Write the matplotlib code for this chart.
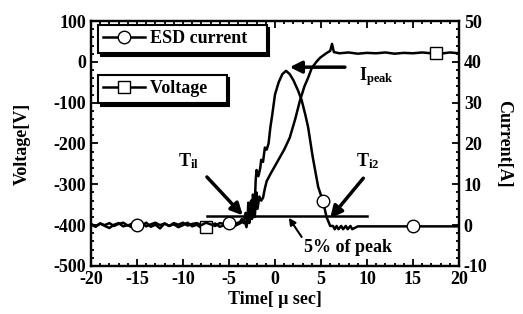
import numpy as np
import matplotlib
matplotlib.use("Agg")
import matplotlib.pyplot as plt
from matplotlib.ticker import MultipleLocator
from matplotlib.lines import Line2D

plt.rcParams['font.family'] = ['Liberation Serif', 'DejaVu Serif']
plt.rcParams['font.weight'] = 'bold'
plt.rcParams['axes.labelweight'] = 'bold'
plt.rcParams['axes.unicode_minus'] = False
plt.rcParams['mathtext.fontset'] = 'custom'
plt.rcParams['mathtext.rm'] = 'Liberation Serif:bold'
plt.rcParams['mathtext.it'] = 'Liberation Serif:bold'
plt.rcParams['mathtext.bf'] = 'Liberation Serif:bold'

# ---------------- data ----------------
current_time = [-20, -19.5, -19, -18.5, -18, -17.5, -17, -16.5, -16, -15.5, -15, -14.5, -14, -13.5,
                -13, -12.5, -12, -11.5, -11, -10.5, -10, -9.5, -9, -8.5, -8, -7.5, -7, -6.5, -6,
                -5.5, -5, -4.5, -4,
                -3.8, -3.6, -3.4, -3.2, -3.0, -2.9, -2.8, -2.6, -2.5, -2.4, -2.2, -2.1, -2.0, -1.8,
                -1.6, -1.5, -1.3, -1.1, -0.9, -0.7, -0.5, -0.3, 0.0, 0.4, 0.8, 1.2, 1.6, 2.0, 2.5,
                2.9, 3.3, 3.6, 4.1, 4.7, 5.2, 5.6, 6.0, 6.3, 6.5, 6.7, 6.9, 7.2, 7.4, 7.7, 7.9, 8.2,
                8.4, 9, 10, 11, 12, 13, 14, 15, 16, 17, 18, 19, 20]
current_amp = [0.3, -0.3, 0.4, 0.0, 0.5, -0.2, 0.3, 0.6, -0.1, 0.4, 0.0, 0.5, -0.3, 0.2,
               0.6, 0.0, 0.4, -0.2, 0.5, 0.1, 0.6, -0.1, 0.3, 0.5, 0.0, 0.6, 0.2, -0.2, 0.5,
               0.3, 0.6, 0.2, 0.6,
               0.8, 1.5, 0.5, 3.0, 1.0, 5.5, 2.0, 6.0, 3.5, 7.5, 5.0, 11, 13.5, 12,
               14, 16, 15.5, 19, 18.5, 20, 24, 27, 32, 35, 37, 37.8, 37, 35.5, 33,
               30.6, 27, 24, 16.7, 9.3, 6.0, 2.0, -0.2, -0.2, -1.0, -0.2, -1.0, -0.2, -1.0, -0.2, -1.0, -0.2,
               -1.0, -0.3, -0.3, -0.3, -0.3, -0.3, -0.3, -0.3, -0.3, -0.3, -0.3, -0.3, -0.3]
current_marker_times = [-15, -5, 5.2, 15]

voltage_time = [-20, -19.5, -19, -18.5, -18, -17.5, -17, -16.5, -16, -15.5, -15, -14.5, -14, -13.5,
                -13, -12.5, -12, -11.5, -11, -10.5, -10, -9.5, -9, -8.5, -8, -7.5, -7, -6.5, -6,
                -5.5, -5, -4.5, -4, -3.5,
                -3.3, -3.1, -2.9, -2.8, -2.6, -2.5, -2.3, -2.2, -2.0, -1.9, -1.7, -1.5, -1.3, -1.1,
                -0.9, -0.5, 0.0, 0.3, 1.0, 1.6, 2.2, 2.7, 3.2, 3.6, 4.0, 4.5, 4.9, 5.5, 6.0, 6.2,
                6.4, 7, 8, 9, 10, 11, 12, 13, 14, 15, 16, 17, 17.5, 18, 19, 20]
voltage_val = [-398, -404, -396, -402, -407, -399, -395, -403, -400, -406, -397, -401, -394, -404,
               -399, -408, -396, -402, -398, -405, -400, -394, -403, -399, -407, -405, -402, -396,
               -404, -400, -395, -403, -398, -392,
               -390, -405, -370, -395, -360, -385, -345, -380, -320, -360, -330, -340, -333, -310,
               -292, -275, -255, -243, -215, -186, -140, -96, -60, -39, -15, 0, 10, 20, 27, 44,
               24, 21, 23, 20, 22, 21, 23, 20, 22, 21, 23, 21, 22, 20, 23, 21]
voltage_marker_times = [-7.5, 17.5]

x_ticks = [-20, -15, -10, -5, 0, 5, 10, 15, 20]

# ---------------- figure ----------------
fig = plt.figure(figsize=(5.23, 3.14), dpi=100)
ax = fig.add_axes([0.174, 0.153, 0.7036, 0.780])
ax2 = ax.twinx()

vt = np.array(voltage_time)
ct = np.array(current_time)
v_idx = [int(np.argmin(np.abs(vt - m))) for m in voltage_marker_times]
c_idx = [int(np.argmin(np.abs(ct - m))) for m in current_marker_times]

lw = 1.8
ms = 9
ax.plot(voltage_time, voltage_val, color='black', lw=lw, marker='s', ms=ms,
        mfc='white', mec='black', mew=1.0, markevery=v_idx, zorder=3)
ax2.plot(current_time, current_amp, color='black', lw=lw, marker='o', ms=ms,
         mfc='white', mec='black', mew=1.0, markevery=c_idx, zorder=3)

ax.set_xlim(-20, 20)
ax.set_ylim(-500, 100)
ax2.set_ylim(-10, 50)
ax.set_xticks(x_ticks)
ax.xaxis.set_minor_locator(MultipleLocator(1))
ax.yaxis.set_major_locator(MultipleLocator(100))
ax.yaxis.set_minor_locator(MultipleLocator(20))
ax2.yaxis.set_major_locator(MultipleLocator(10))
ax2.yaxis.set_minor_locator(MultipleLocator(2))

fs = 13
ax.tick_params(which='both', direction='in', top=True, right=False, labelsize=fs, width=1.3)
ax.tick_params(which='major', length=5)
ax.tick_params(which='minor', length=2.5)
ax2.tick_params(which='both', direction='in', labelsize=fs, width=1.3)
ax2.tick_params(which='major', length=5)
ax2.tick_params(which='minor', length=2.5)
for a in (ax, ax2):
    for s in a.spines.values():
        s.set_linewidth(1.6)

ax.set_xlabel('Time[ \u03bc sec]', fontsize=fs, labelpad=2)
ax.set_ylabel('Voltage[V]', fontsize=fs, labelpad=16)
ax2.set_ylabel('Current[A]', fontsize=fs, rotation=270, labelpad=18)

# ---------------- annotations ----------------
arrow_big = dict(arrowstyle='-|>,head_length=0.7,head_width=0.35', lw=2.5, color='black',
                 shrinkA=0, shrinkB=0)
ax2.annotate('', xy=(1.6, 38.7), xytext=(7.6, 38.7), arrowprops=arrow_big)
ax2.text(11.0, 36.5, r'$I_{peak}$', fontsize=fs, ha='center', va='center')

ax2.annotate('', xy=(-3.5, 2.4), xytext=(-7.4, 11.8), arrowprops=arrow_big)
ax2.text(-9.4, 15.6, r'$T_{il}$', fontsize=fs, ha='center', va='center')

ax2.annotate('', xy=(6.0, 1.7), xytext=(9.6, 11.5), arrowprops=arrow_big)
ax2.text(10.1, 15.6, r'$T_{i2}$', fontsize=fs, ha='center', va='center')

ax2.plot([-7.4, 10.0], [2.2, 2.2], color='black', lw=1.8)
ax2.annotate('', xy=(1.5, 1.8), xytext=(2.9, -2.9),
             arrowprops=dict(arrowstyle='-|>,head_length=0.4,head_width=0.2', lw=1.5,
                             color='black', shrinkA=0, shrinkB=0))
ax2.text(7.9, -5.6, '5% of peak', fontsize=fs, ha='center', va='center')

# ---------------- legends ----------------
h1 = Line2D([], [], color='black', lw=lw, marker='o', ms=ms, mfc='white', mec='black', mew=1.0)
h2 = Line2D([], [], color='black', lw=lw, marker='s', ms=ms, mfc='white', mec='black', mew=1.0)
shadow = {'color': 'black', 'alpha': 1.0}
leg1 = ax2.legend([h1], ['ESD current   '], loc='upper left', bbox_to_anchor=(0.019, 0.984),
                  borderaxespad=0, fontsize=fs, fancybox=False, shadow=shadow,
                  edgecolor='black', framealpha=1, handlelength=2.3, handletextpad=0.3,
                  borderpad=0.3)
leg1.get_frame().set_linewidth(1.5)
ax2.add_artist(leg1)
leg2 = ax2.legend([h2], ['Voltage   '], loc='upper left', bbox_to_anchor=(0.019, 0.78),
                  borderaxespad=0, fontsize=fs, fancybox=False, shadow=shadow,
                  edgecolor='black', framealpha=1, handlelength=2.3, handletextpad=0.3,
                  borderpad=0.3)
leg2.get_frame().set_linewidth(1.5)

fig.savefig('out.png', dpi=100)
